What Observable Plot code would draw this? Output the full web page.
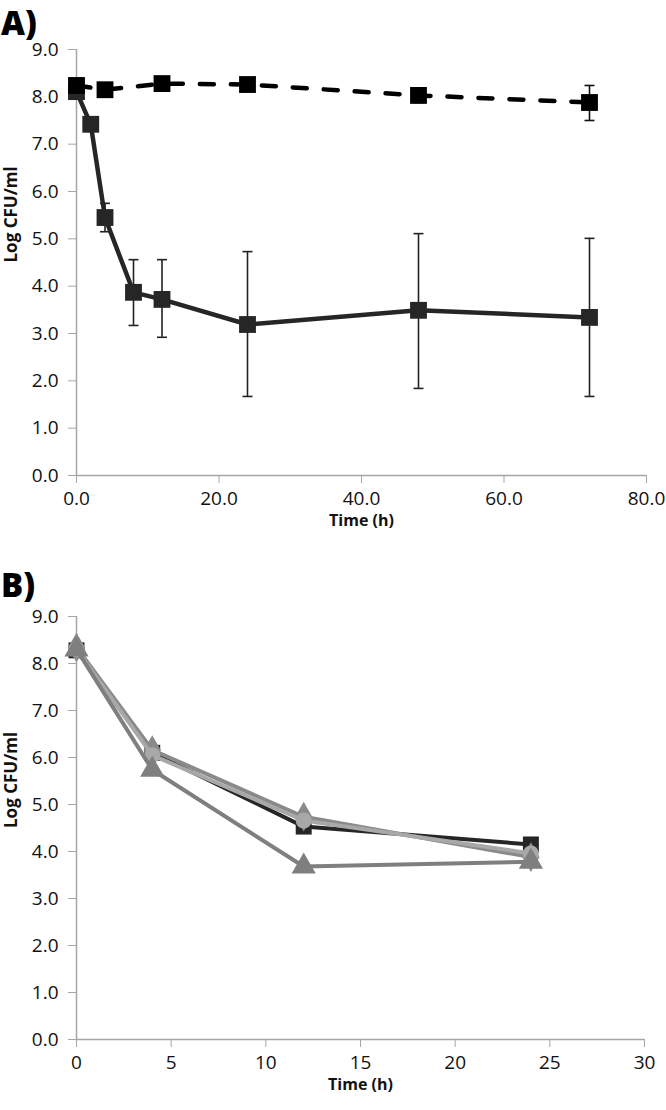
<!DOCTYPE html>
<html>
<head>
<meta charset="utf-8">
<script src="https://cdn.jsdelivr.net/npm/d3@7"></script>
<script src="https://cdn.jsdelivr.net/npm/@observablehq/plot@0.6"></script>
<style>
  body { margin: 0; background: #fff; }
  #wrap { position: relative; width: 666px; height: 1110px; overflow: hidden; font-family: "Open Sans", sans-serif; }
  .panel { position: absolute; left: 0; z-index: 1; }
  .plab { position: absolute; left: 1px; z-index: 5; font-family: "Open Sans", sans-serif; font-weight: 800; font-size: 33px; line-height: normal; color: #000; }
  #wrap svg g[aria-label$="tick label"] { font-size: 19px; }
  #wrap svg g[aria-label$="tick label"] text { font-size: 19px; }
</style>
</head>
<body>
<div id="wrap">
  <div class="plab" style="top:0px;">A)</div>
  <div class="panel" id="pa" style="top:0px;"></div>
  <div class="plab" style="top:562px;">B)</div>
  <div class="panel" id="pb" style="top:560px;"></div>
</div>
<script>
// ---- Panel A data ----
const timeA = [0, 2, 4, 8, 12, 24, 48, 72];
const treatedA = [8.11, 7.42, 5.45, 3.87, 3.72, 3.19, 3.49, 3.34];
const treatedLo = [null, null, 5.15, 3.17, 2.92, 1.67, 1.84, 1.67];
const treatedHi = [null, null, 5.75, 4.56, 4.56, 4.73, 5.11, 5.01];
const timeCtl = [0, 4, 12, 24, 48, 72];
const controlA = [8.24, 8.15, 8.28, 8.26, 8.03, 7.88];
const controlLo = [null, null, null, null, 7.88, 7.50];
const controlHi = [null, null, null, null, 8.18, 8.24];
const yTicks = [0, 1, 2, 3, 4, 5, 6, 7, 8, 9];
const xTicksA = [0, 20, 40, 60, 80];

// ---- Panel B data ----
const timeB = [0, 4, 12, 24];
const seriesB = ["square", "diamond", "circle", "triangle"];
const seriesColors = ["#262626", "#8a8a8a", "#a8a8a8", "#7f7f7f"];
const squareB = [8.28, 6.10, 4.53, 4.15];
const diamondB = [8.34, 6.16, 4.74, 3.88];
const circleB = [8.30, 6.05, 4.66, 3.96];
const triangleB = [8.30, 5.74, 3.68, 3.78];
const xTicksB = [0, 5, 10, 15, 20, 25, 30];

const capSymbol = {
  draw(ctx, size) { const w = 5; ctx.moveTo(-w, 0); ctx.lineTo(w, 0); }
};

const axisGrey = "#a6a6a6";

function axes(xTicks, xFmt) {
  return [
    Plot.axisY({ticks: yTicks, tickFormat: d3.format(".1f"), tickSize: 8, tickPadding: 10, stroke: axisGrey, fill: "#111", label: null}),
    Plot.axisX({ticks: xTicks, tickFormat: xFmt, tickSize: 8, tickPadding: 8, stroke: axisGrey, fill: "#111", label: null}),
    Plot.ruleX([0], {stroke: axisGrey, strokeWidth: 1.5}),
    Plot.ruleY([0], {stroke: axisGrey, strokeWidth: 1.5}),
    Plot.text(["Log CFU/ml"], {frameAnchor: "left", rotate: -90, dx: -65, fontWeight: "bold", fontSize: 17, fill: "#111"}),
    Plot.text(["Time (h)"], {frameAnchor: "bottom", dy: 50, fontWeight: "bold", fontSize: 16, fill: "#111"})
  ];
}

// Panel A
const treated = timeA.map((t, i) => ({t, v: treatedA[i], lo: treatedLo[i], hi: treatedHi[i]}));
const control = timeCtl.map((t, i) => ({t, v: controlA[i], lo: controlLo[i], hi: controlHi[i]}));
const trErr = treated.filter(d => d.lo != null);
const ctErr = control.filter(d => d.lo != null);

const plotA = Plot.plot({
  width: 666,
  height: 540,
  marginTop: 49,
  marginBottom: 65,
  marginLeft: 76,
  marginRight: 20,
  style: {fontFamily: "'Open Sans', sans-serif", background: "transparent", overflow: "visible"},
  x: {domain: [0, 80]},
  y: {domain: [0, 9]},
  marks: [
    ...axes(xTicksA, d3.format(".1f")),
    Plot.ruleX(trErr, {x: "t", y1: "lo", y2: "hi", stroke: "#222", strokeWidth: 1.6}),
    Plot.dot(trErr, {x: "t", y: "lo", symbol: capSymbol, stroke: "#222", strokeWidth: 1.6, r: 5}),
    Plot.dot(trErr, {x: "t", y: "hi", symbol: capSymbol, stroke: "#222", strokeWidth: 1.6, r: 5}),
    Plot.ruleX(ctErr, {x: "t", y1: "lo", y2: "hi", stroke: "#111", strokeWidth: 1.6}),
    Plot.dot(ctErr, {x: "t", y: "lo", symbol: capSymbol, stroke: "#111", strokeWidth: 1.6, r: 5}),
    Plot.dot(ctErr, {x: "t", y: "hi", symbol: capSymbol, stroke: "#111", strokeWidth: 1.6, r: 5}),
    Plot.line(treated, {x: "t", y: "v", stroke: "#262626", strokeWidth: 4.5}),
    Plot.dot(treated, {x: "t", y: "v", symbol: "square", fill: "#262626", r: 9.5}),
    Plot.line(control, {x: "t", y: "v", stroke: "#000", strokeWidth: 4.5, strokeDasharray: "14,17", strokeLinecap: "round"}),
    Plot.dot(control, {x: "t", y: "v", symbol: "square", fill: "#000", r: 9.5})
  ]
});
document.getElementById("pa").appendChild(plotA);

// Panel B
const valuesB = [squareB, diamondB, circleB, triangleB];
const dataB = seriesB.flatMap((s, k) => timeB.map((t, i) => ({s, k, t, v: valuesB[k][i]})));

const markB = [];
seriesB.forEach((s, k) => {
  const d = dataB.filter(e => e.s === s);
  markB.push(Plot.line(d, {x: "t", y: "v", stroke: seriesColors[k], strokeWidth: 4}));
  markB.push(Plot.dot(d, {x: "t", y: "v", symbol: s, fill: seriesColors[k], r: s === "circle" ? 8 : 9}));
});

const plotB = Plot.plot({
  width: 666,
  height: 550,
  marginTop: 56,
  marginBottom: 71,
  marginLeft: 76,
  marginRight: 22,
  style: {fontFamily: "'Open Sans', sans-serif", background: "transparent", overflow: "visible"},
  x: {domain: [0, 30]},
  y: {domain: [0, 9]},
  marks: [
    ...axes(xTicksB, d3.format("d")),
    ...markB
  ]
});
document.getElementById("pb").appendChild(plotB);
</script>
</body>
</html>
